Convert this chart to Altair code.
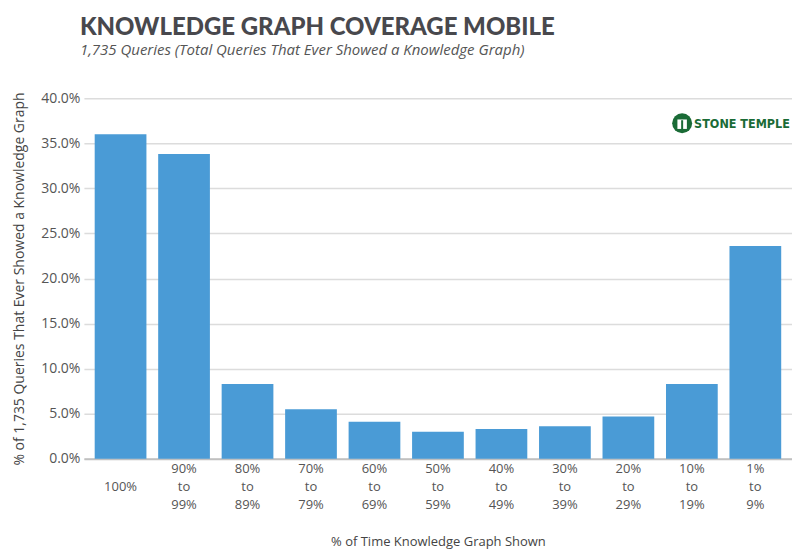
import altair as alt
import pandas as pd

categories = ["100%", "90% to 99%", "80% to 89%", "70% to 79%", "60% to 69%",
              "50% to 59%", "40% to 49%", "30% to 39%", "20% to 29%", "10% to 19%", "1% to 9%"]
shares = [0.360, 0.338, 0.083, 0.055, 0.041, 0.030, 0.033, 0.036, 0.047, 0.083, 0.236]

df = pd.DataFrame({"bucket": categories, "share": shares})

FONT = "Open Sans"
GRAY = "#555555"
GREEN = "#1a6b36"

bars = alt.Chart(df).mark_bar(color="#4a9bd6").encode(
    x=alt.X("bucket:N", sort=categories,
            scale=alt.Scale(paddingInner=0.185, paddingOuter=0.17),
            axis=alt.Axis(
                title="% of Time Knowledge Graph Shown",
                labelAngle=0,
                labelExpr="length(split(datum.label, ' ')) == 1 ? ['', datum.label, ''] : split(datum.label, ' ')",
                labelLineHeight=18,
                labelPadding=4,
                labelFontSize=13,
                labelColor=GRAY,
                labelFont=FONT,
                ticks=False,
                domainColor="#c0c0c0",
                domainWidth=2,
                titleFont=FONT,
                titleFontSize=13,
                titleFontWeight="normal",
                titleColor="#444444",
                titlePadding=24,
            )),
    y=alt.Y("share:Q",
            scale=alt.Scale(domain=[0, 0.40], nice=False),
            axis=alt.Axis(
                title="% of 1,735 Queries That Ever Showed a Knowledge Graph",
                format=".1%",
                values=[0, 0.05, 0.10, 0.15, 0.20, 0.25, 0.30, 0.35, 0.40],
                domain=False,
                ticks=False,
                labelPadding=4,
                labelFontSize=14,
                labelColor=GRAY,
                labelFont=FONT,
                gridColor="#dcdcdc",
                gridWidth=1.5,
                titleFont=FONT,
                titleFontSize=14,
                titleFontWeight="normal",
                titleColor="#444444",
                titlePadding=14,
            )),
)

one = pd.DataFrame({"a": [0]})

logo_circle = alt.Chart(one).mark_point(
    shape="circle", filled=True, color=GREEN, size=400, opacity=1
).encode(x=alt.value(599), y=alt.value(25))

logo_inner = alt.Chart(one).mark_point(
    shape="square", filled=True, color="white", size=90, opacity=1
).encode(x=alt.value(599), y=alt.value(26))

logo_pillar = alt.Chart(one).mark_rule(
    color=GREEN, strokeWidth=2
).encode(x=alt.value(599), y=alt.value(22), y2=alt.value(31))

logo_text = alt.Chart(pd.DataFrame({"t": ["STONE TEMPLE"]})).mark_text(
    font="DejaVu Sans Condensed", fontWeight="bold", fontSize=12.5, color=GREEN,
    align="left", baseline="middle"
).encode(x=alt.value(611), y=alt.value(26), text="t:N")

chart = alt.layer(bars, logo_circle, logo_inner, logo_pillar, logo_text).properties(
    width=709,
    height=361,
    autosize=alt.AutoSizeParams(type="none"),
    padding={"left": 76, "top": 90, "right": 0, "bottom": 90},
    title=alt.TitleParams(
        text="KNOWLEDGE GRAPH COVERAGE MOBILE",
        subtitle="1,735 Queries (Total Queries That Ever Showed a Knowledge Graph)",
        anchor="start",
        frame="group",
        dx=-4,
        offset=33,
        font="Lato",
        fontSize=24,
        fontWeight=900,
        color="#48484d",
        subtitleFont=FONT,
        subtitleFontSize=15,
        subtitleFontStyle="italic",
        subtitleColor="#555555",
        subtitlePadding=3,
    ),
).configure_view(stroke=None)

chart.save("out.html", embed_options={"renderer": "svg", "actions": False})
